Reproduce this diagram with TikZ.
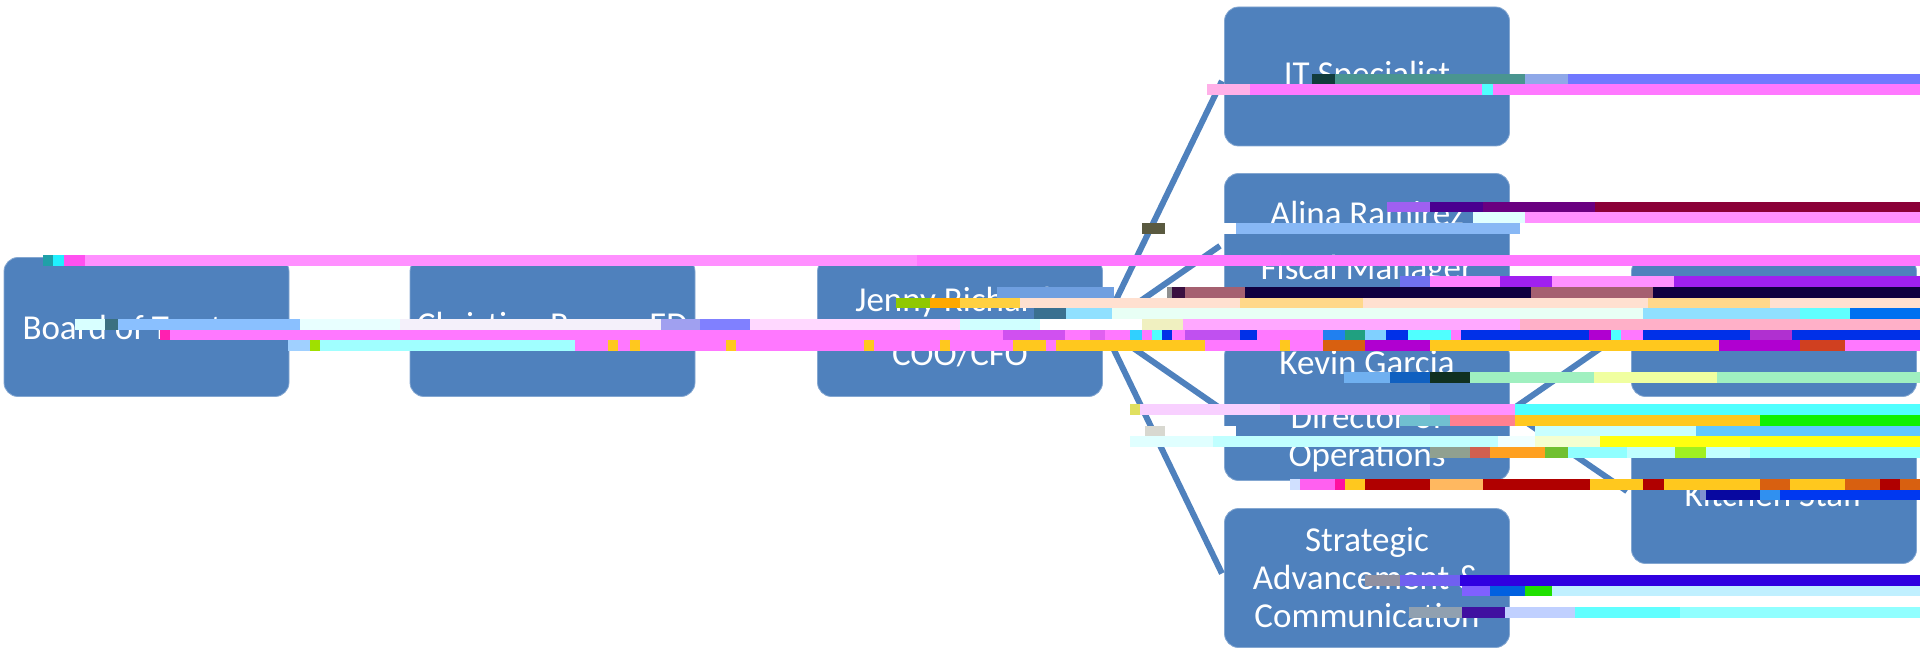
\documentclass[tikz,border=0pt]{standalone}
\usepackage{fontspec}
\setmainfont{Carlito}
\definecolor{boxblue}{HTML}{4F81BD}
\tikzset{
  orgbox/.style={fill=boxblue,draw=boxblue!70!white,line width=0.8pt,rounded corners=14pt,minimum width=285pt,minimum height=139pt,inner sep=0pt,align=center,text=white,font=\fontsize{35}{38}\selectfont},
  link/.style={draw=boxblue,line width=6pt,shorten <=10pt,shorten >=5pt}
}
\newcommand{\bnd}[4]{\definecolor{tmpc}{HTML}{#4}\fill[tmpc] (#2,{10.667*#1-1}) rectangle (#3,{10.667*(#1+1)-1});}
\begin{document}
\begin{tikzpicture}[x=1pt,y=-1pt]
\useasboundingbox (0,0) rectangle (1920,655);
\node[orgbox] (board) at (146.5,327) {Board of Trustees};
\node[orgbox] (ed) at (552.5,327) {Christina Russo, ED};
\node[orgbox] (coo) at (960,327) {Jenny Richards\\[16pt]COO/CFO};
\node[orgbox] (it) at (1367,76.5) {IT Specialist};
\node[orgbox] (fiscal) at (1367,243) {Alina Ramirez\\[16pt]Fiscal Manager};
\node[orgbox] (ops) at (1367,411) {Kevin Garcia\\[16pt]Director of\\Operations};
\node[orgbox] (adv) at (1367,578) {Strategic\\Advancement \&\\Communication};
\node[orgbox] (fac) at (1774,327) {Facilities Manager};
\node[orgbox] (kit) at (1774,494) {Kitchen Staff};
\draw[link] (coo.east) -- (it.west);
\draw[link] (coo.east) -- (fiscal.west);
\draw[link] (coo.east) -- (ops.west);
\draw[link] (coo.east) -- (adv.west);
\draw[link,shorten <=5pt] (ops.east) -- (fac.west);
\draw[link,shorten <=5pt] (ops.east) -- (kit.west);
% row 7
\bnd{7}{1312}{1335}{123C3C}\bnd{7}{1335}{1525}{4A9590}\bnd{7}{1525}{1568}{8FA8E8}\bnd{7}{1568}{1920}{7078FF}
% row 8
\bnd{8}{1207}{1250}{FFB0E8}\bnd{8}{1250}{1920}{FF78FF}\bnd{8}{1482}{1493}{50FFFF}
% row 19
\bnd{19}{1387}{1430}{A060F0}\bnd{19}{1430}{1483}{4A0090}\bnd{19}{1483}{1595}{6A0080}\bnd{19}{1595}{1920}{8A0038}
% row 20
\bnd{20}{1473}{1525}{E0FFFF}\bnd{20}{1525}{1920}{FF90FF}
% row 21
\bnd{21}{1142}{1165}{5A5A40}\bnd{21}{1222}{1236}{FFFFFF}\bnd{21}{1236}{1520}{88B8F5}
% row 24
\bnd{24}{43}{53}{1FA0A8}\bnd{24}{53}{64}{20F0FF}\bnd{24}{64}{85}{FF50F0}\bnd{24}{85}{917}{FF90FF}\bnd{24}{917}{1920}{FF78FF}
% row 26
\bnd{26}{1400}{1430}{7070F0}\bnd{26}{1430}{1500}{FF80FF}\bnd{26}{1500}{1552}{A020F0}\bnd{26}{1552}{1674}{FF90FF}\bnd{26}{1674}{1920}{A020F0}
% row 27
\bnd{27}{997}{1114}{6F9FE0}\bnd{27}{1167}{1172}{909090}\bnd{27}{1172}{1185}{3A1040}\bnd{27}{1185}{1245}{A56070}\bnd{27}{1245}{1531}{100040}\bnd{27}{1531}{1653}{A56070}\bnd{27}{1653}{1920}{100040}
% row 28
\bnd{28}{896}{930}{90C800}\bnd{28}{930}{960}{FFA800}\bnd{28}{960}{1020}{FFD040}\bnd{28}{1020}{1240}{FFE0D0}\bnd{28}{1240}{1363}{FFD88A}\bnd{28}{1363}{1648}{FFE0D0}\bnd{28}{1648}{1770}{FFD88A}\bnd{28}{1770}{1920}{FFE0D0}
% row 29
\bnd{29}{1034}{1066}{3A7090}\bnd{29}{1066}{1112}{90E0FF}\bnd{29}{1112}{1643}{E8FFF5}\bnd{29}{1643}{1800}{90E0FF}\bnd{29}{1800}{1850}{60FFFF}\bnd{29}{1850}{1920}{0070F0}
% row 30
\bnd{30}{75}{105}{D8FFFF}\bnd{30}{105}{118}{3A7080}\bnd{30}{118}{300}{8AC0FF}\bnd{30}{300}{400}{E8FFFF}\bnd{30}{400}{661}{F4F0FA}\bnd{30}{661}{700}{A0A0F0}\bnd{30}{700}{750}{8080FF}\bnd{30}{750}{960}{FFD8FF}\bnd{30}{960}{1040}{D0FFFF}\bnd{30}{1040}{1142}{FFFFFF}\bnd{30}{1142}{1183}{F0F0C0}\bnd{30}{1183}{1520}{FFA8FF}\bnd{30}{1520}{1920}{FFB0C8}
% row 31
\bnd{31}{160}{170}{FF20B0}\bnd{31}{170}{1920}{FF78FF}\bnd{31}{1003}{1065}{D050F0}\bnd{31}{1090}{1105}{E060F0}\bnd{31}{1130}{1142}{30D0FF}\bnd{31}{1152}{1162}{50FFFF}\bnd{31}{1162}{1172}{0030E8}\bnd{31}{1185}{1240}{C050F0}\bnd{31}{1240}{1257}{0030E8}\bnd{31}{1323}{1345}{2080F0}\bnd{31}{1345}{1365}{20A080}\bnd{31}{1365}{1386}{80D0FF}\bnd{31}{1386}{1408}{0030E8}\bnd{31}{1408}{1451}{50FFFF}\bnd{31}{1461}{1589}{0030E8}\bnd{31}{1589}{1611}{B000D0}\bnd{31}{1611}{1621}{50FFFF}\bnd{31}{1643}{1750}{0030E8}\bnd{31}{1750}{1792}{B030D0}\bnd{31}{1792}{1920}{0030E8}
% row 32
\bnd{32}{288}{310}{A0D0FF}\bnd{32}{310}{320}{A0E000}\bnd{32}{320}{575}{A0FFFF}\bnd{32}{575}{1920}{FF78FF}\bnd{32}{608}{618}{FFC81E}\bnd{32}{630}{640}{FFC81E}\bnd{32}{726}{736}{FFC81E}\bnd{32}{864}{874}{FFC81E}\bnd{32}{940}{950}{FFC81E}\bnd{32}{1013}{1046}{FFC81E}\bnd{32}{1056}{1205}{FFC81E}\bnd{32}{1280}{1290}{FFC81E}\bnd{32}{1323}{1365}{D86010}\bnd{32}{1365}{1430}{B000D0}\bnd{32}{1430}{1719}{FFC81E}\bnd{32}{1719}{1800}{B000D0}\bnd{32}{1800}{1845}{D04020}\bnd{32}{1845}{1920}{FF78FF}
% row 35
\bnd{35}{1344}{1390}{70B0F0}\bnd{35}{1390}{1430}{1060C0}\bnd{35}{1430}{1470}{103020}\bnd{35}{1470}{1594}{A0F0C0}\bnd{35}{1594}{1717}{F0FFA0}\bnd{35}{1717}{1920}{A0F0C0}
% row 38
\bnd{38}{1130}{1140}{E0E060}\bnd{38}{1140}{1280}{F8D0FF}\bnd{38}{1280}{1430}{FFB0FF}\bnd{38}{1430}{1515}{FF90FF}\bnd{38}{1515}{1920}{50FFFF}
% row 39
\bnd{39}{1400}{1450}{70C0D0}\bnd{39}{1450}{1515}{FF8090}\bnd{39}{1515}{1760}{FFC81E}\bnd{39}{1760}{1920}{10F000}
% row 40
\bnd{40}{1145}{1165}{D8D8D0}\bnd{40}{1165}{1236}{FFFFFF}\bnd{40}{1535}{1696}{C8FFFF}\bnd{40}{1696}{1920}{60C8FF}
% row 41
\bnd{41}{1130}{1213}{E0FFFF}\bnd{41}{1213}{1498}{C0FFFF}\bnd{41}{1498}{1535}{F0FFFF}\bnd{41}{1535}{1600}{F4FFD0}\bnd{41}{1600}{1920}{FFFF10}
% row 42
\bnd{42}{1430}{1470}{90A090}\bnd{42}{1470}{1490}{D06050}\bnd{42}{1490}{1545}{FFA020}\bnd{42}{1545}{1568}{70C030}\bnd{42}{1568}{1627}{90FFFF}\bnd{42}{1627}{1675}{C0FFFF}\bnd{42}{1675}{1706}{A0F020}\bnd{42}{1706}{1750}{C0FFFF}\bnd{42}{1750}{1920}{90FFFF}
% row 45
\bnd{45}{1290}{1300}{D0E0FF}\bnd{45}{1300}{1335}{FF60F0}\bnd{45}{1335}{1345}{FF10A0}\bnd{45}{1345}{1365}{FFC81E}\bnd{45}{1365}{1430}{B00000}\bnd{45}{1430}{1483}{FFB860}\bnd{45}{1483}{1590}{B00000}\bnd{45}{1590}{1621}{FFC81E}\bnd{45}{1621}{1643}{FFC81E}\bnd{45}{1643}{1664}{B00000}\bnd{45}{1664}{1760}{FFC81E}\bnd{45}{1760}{1790}{D86010}\bnd{45}{1790}{1845}{FFC81E}\bnd{45}{1845}{1880}{D86010}\bnd{45}{1880}{1900}{B00000}\bnd{45}{1900}{1920}{D86010}
% row 46
\bnd{46}{1700}{1706}{8090D0}\bnd{46}{1706}{1760}{0808A0}\bnd{46}{1760}{1780}{3090F0}\bnd{46}{1780}{1920}{0038F0}
% row 54
\bnd{54}{1365}{1400}{9090A0}\bnd{54}{1400}{1460}{7060F0}\bnd{54}{1460}{1920}{3000E0}
% row 55
\bnd{55}{1462}{1490}{8060FF}\bnd{55}{1490}{1525}{0060E0}\bnd{55}{1525}{1552}{20E000}\bnd{55}{1552}{1920}{C0F0FF}
% row 57
\bnd{57}{1409}{1462}{90A0B0}\bnd{57}{1462}{1505}{4010A0}\bnd{57}{1505}{1575}{C0D0FF}\bnd{57}{1575}{1680}{60FFFF}\bnd{57}{1680}{1920}{90FFFF}
\end{tikzpicture}
\end{document}
